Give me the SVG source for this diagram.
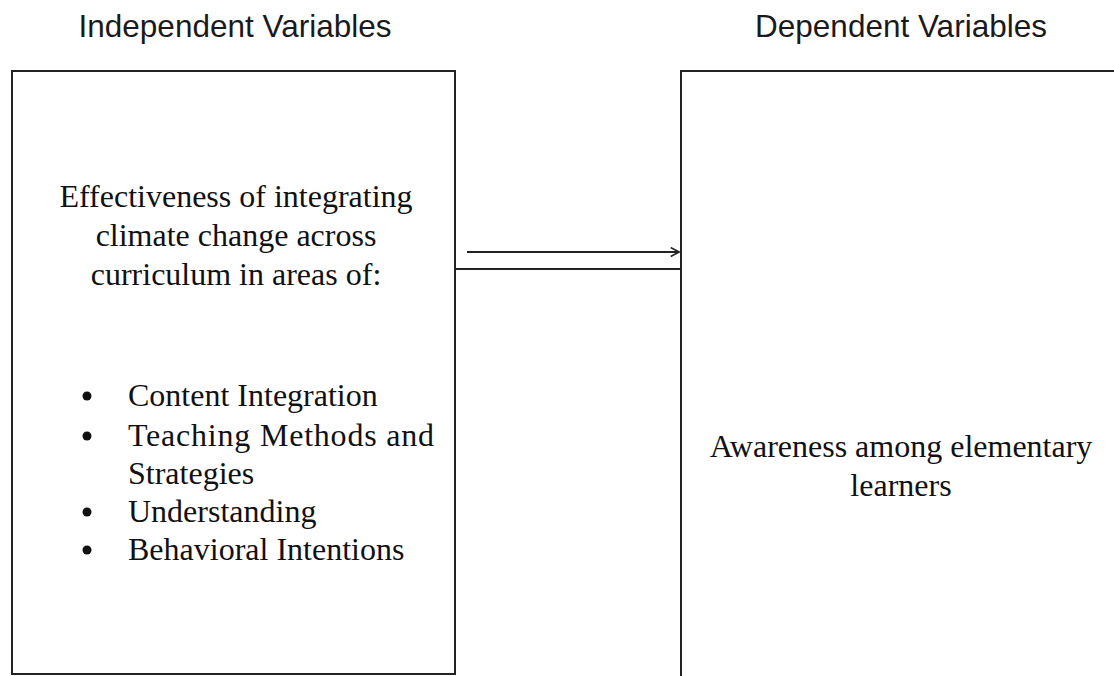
<svg xmlns="http://www.w3.org/2000/svg" width="1114" height="676" viewBox="0 0 1114 676">
<style>
.title{font-family:"Liberation Sans",Arial,sans-serif;font-size:31.5px;fill:#1a1a1a}
.body{font-family:"Liberation Serif","Times New Roman",serif;font-size:32px;fill:#111}
.box{fill:#fff;stroke:#222;stroke-width:2}
.conn{stroke:#222;stroke-width:2;fill:none}
.bullet{fill:#111}
</style>
<defs>
<marker id="arr" viewBox="0 0 10 10" refX="9" refY="5" markerWidth="11" markerHeight="11" markerUnits="userSpaceOnUse" orient="auto">
<path d="M1.5,1 L9,5 L1.5,9" fill="none" stroke="#222" stroke-width="1.5"/>
</marker>
</defs>
<rect width="1114" height="676" fill="#fff"/>
<g id="title-independent"><text class="title" x="235" y="37" text-anchor="middle">Independent Variables</text></g>
<g id="title-dependent"><text class="title" x="901" y="37" text-anchor="middle">Dependent Variables</text></g>
<g id="node-independent">
<rect class="box" x="12" y="71" width="443" height="603"/>
<text class="body" x="236" y="207" text-anchor="middle">Effectiveness of integrating</text>
<text class="body" x="236" y="246" text-anchor="middle">climate change across</text>
<text class="body" x="236" y="285" text-anchor="middle">curriculum in areas of:</text>
<circle class="bullet" cx="87" cy="396" r="4.5"/><text class="body" x="128" y="406">Content Integration</text>
<circle class="bullet" cx="87" cy="436" r="4.5"/><text class="body" x="128" y="446" textLength="306" lengthAdjust="spacing">Teaching Methods and</text>
<text class="body" x="128" y="484">Strategies</text>
<circle class="bullet" cx="87" cy="512" r="4.5"/><text class="body" x="128" y="522">Understanding</text>
<circle class="bullet" cx="87" cy="550" r="4.5"/><text class="body" x="128" y="560">Behavioral Intentions</text>
</g>
<g id="node-dependent">
<rect class="box" x="681" y="71" width="460" height="640"/>
<text class="body" x="901" y="457" text-anchor="middle">Awareness among elementary</text>
<text class="body" x="901" y="496" text-anchor="middle">learners</text>
</g>
<g id="connectors">
<line class="conn" x1="455" y1="269" x2="681" y2="269"/>
<line class="conn" x1="467" y1="252" x2="679" y2="252" marker-end="url(#arr)"/>
</g>
</svg>
